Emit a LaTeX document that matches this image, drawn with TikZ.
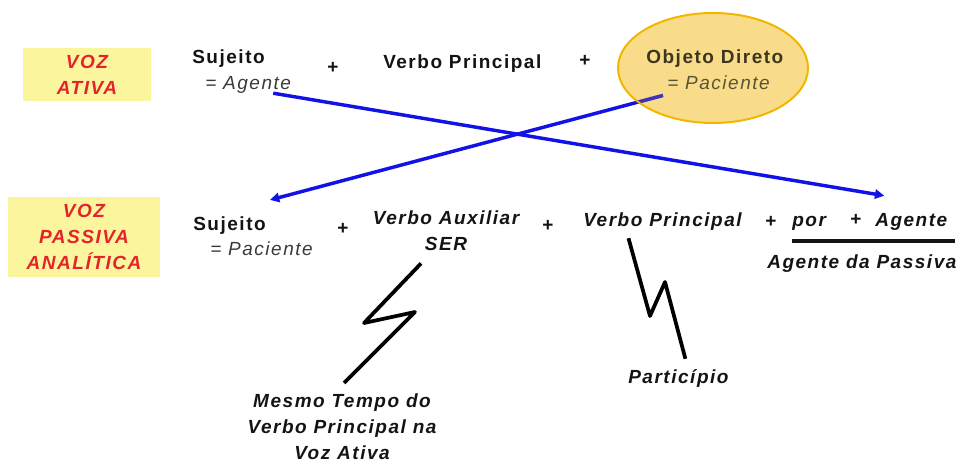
\documentclass[tikz,border=0pt]{standalone}
\usepackage{fontspec}
\newfontfamily\arialf{Liberation Sans}[LetterSpace=8]
\usetikzlibrary{arrows.meta,positioning,shapes.geometric}
\pgfdeclarelayer{fundo}
\pgfsetlayers{fundo,main}
\definecolor{vozred}{HTML}{E3242B}
\definecolor{amarelo}{HTML}{FBF59E}
\definecolor{ouro}{HTML}{F2B600}
\definecolor{ourofill}{HTML}{F3B915}
\definecolor{azul}{HTML}{1212E6}
\definecolor{tinta}{HTML}{141414}
\definecolor{cinza}{HTML}{3A3A3A}
\definecolor{oliva}{HTML}{3D3620}
\definecolor{oliva2}{HTML}{5B5337}
\tikzset{
  termo/.style={font=\arialf\fontsize{14.25}{19.5}\selectfont\bfseries, text=tinta, inner sep=0pt},
  termoit/.style={font=\arialf\fontsize{14.25}{19.5}\selectfont\bfseries\itshape, text=tinta, inner sep=0pt},
  igual/.style={font=\arialf\fontsize{14.25}{19.5}\selectfont\itshape, text=cinza, inner sep=0pt},
  caixa/.style={fill=amarelo, align=center, inner sep=0pt, text=vozred,
    font=\arialf\fontsize{14.25}{19.5}\selectfont\bfseries\itshape},
  balao/.style={ellipse, draw=ouro, fill=ourofill, fill opacity=0.5, line width=1.5pt,
    minimum width=142.5pt, minimum height=82.5pt},
  seta/.style={draw=azul, line width=2.6pt, -{Triangle[length=7pt,width=7pt]}},
  raio/.style={draw=black, line width=2.8pt, line join=round},
  traco/.style={draw=tinta, line width=2.4pt}
}
\begin{document}
\begin{tikzpicture}[x=0.75pt,y=-0.75pt]
        \useasboundingbox (0,0) rectangle (962,463);
        \node[caixa, minimum width=96pt, minimum height=39.75pt] (ativa) at (87,74.5) {VOZ\\ATIVA};
        \node[caixa, minimum width=114pt, minimum height=60pt] (passiva) at (84,237) {VOZ\\PASSIVA\\ANALÍTICA};

        \node[termo, anchor=base west] (sujeito1) at (192,64) {Sujeito};
        \node[igual, anchor=base west] (agente1) at (205,90) {= Agente};
        \node[termo, anchor=base] (mais1) at (333,74) {+};
        \node[termo, anchor=base west] (verbo1) at (383,69) {Verbo Principal};
        \node[termo, anchor=base] (mais2) at (585,67) {+};
        \node[termo, anchor=base west, text=oliva] (objeto) at (646,64) {Objeto Direto};
        \node[igual, anchor=base west, text=oliva2] (paciente1) at (667,90) {= Paciente};

        \node[termo, anchor=base west] (sujeito2) at (193,230) {Sujeito};
        \node[igual, anchor=base west] (paciente2) at (210,255) {= Paciente};
        \node[termo, anchor=base] (mais3) at (343,234) {+};
        \node[termoit, anchor=base, align=center] (auxiliar) at (446,250) {Verbo Auxiliar\\SER};
        \node[termo, anchor=base] (mais4) at (548,231) {+};
        \node[termoit, anchor=base west] (verbo2) at (583,226) {Verbo Principal};
        \node[termo, anchor=base] (mais5) at (771,228) {+};
        \node[termoit, anchor=base west] (por) at (792,226) {por};
        \node[termo, anchor=base] (mais6) at (856,225) {+};
        \node[termoit, anchor=base west] (agente2) at (875,226) {Agente};
        \node[termoit, anchor=base west] (passivaag) at (767,268) {Agente da Passiva};
        \draw[traco] (792,241) -- (955,241);

        \node[termoit, anchor=north, align=center] (mesmo) at (342,393)
              {Mesmo Tempo do\\Verbo Principal na\\Voz Ativa};
        \node[termoit, anchor=base west] (participio) at (628,383) {Particípio};

        \draw[raio] ([shift={(-25,13)}]auxiliar.south) -- (364,323) -- (415,312)
              -- ([shift={(2,-10)}]mesmo.north);
        \draw[raio] ([shift={(-34,8)}]verbo2.south) -- (650,316) -- (665,282)
              -- ([shift={(7,-10)}]participio.north);

        \begin{pgfonlayer}{fundo}
          \draw[seta] ([shift={(-18,-1)}]agente1.south east) -- ([shift={(-27,-17)}]agente2.north);
          \draw[seta] ([shift={(-4,5)}]paciente1.south west) -- ([shift={(4,-16)}]sujeito2.north east);
          \node[balao] (elipse) at (713,68) {};
          \begin{scope}
            \clip (713,68) ellipse [x radius=94, y radius=54];
            \draw[azul, line width=2.6pt, opacity=0.6] ([shift={(-4,5)}]paciente1.south west)
                  -- ([shift={(4,-16)}]sujeito2.north east);
          \end{scope}
        \end{pgfonlayer}
      \end{tikzpicture}
\end{document}
